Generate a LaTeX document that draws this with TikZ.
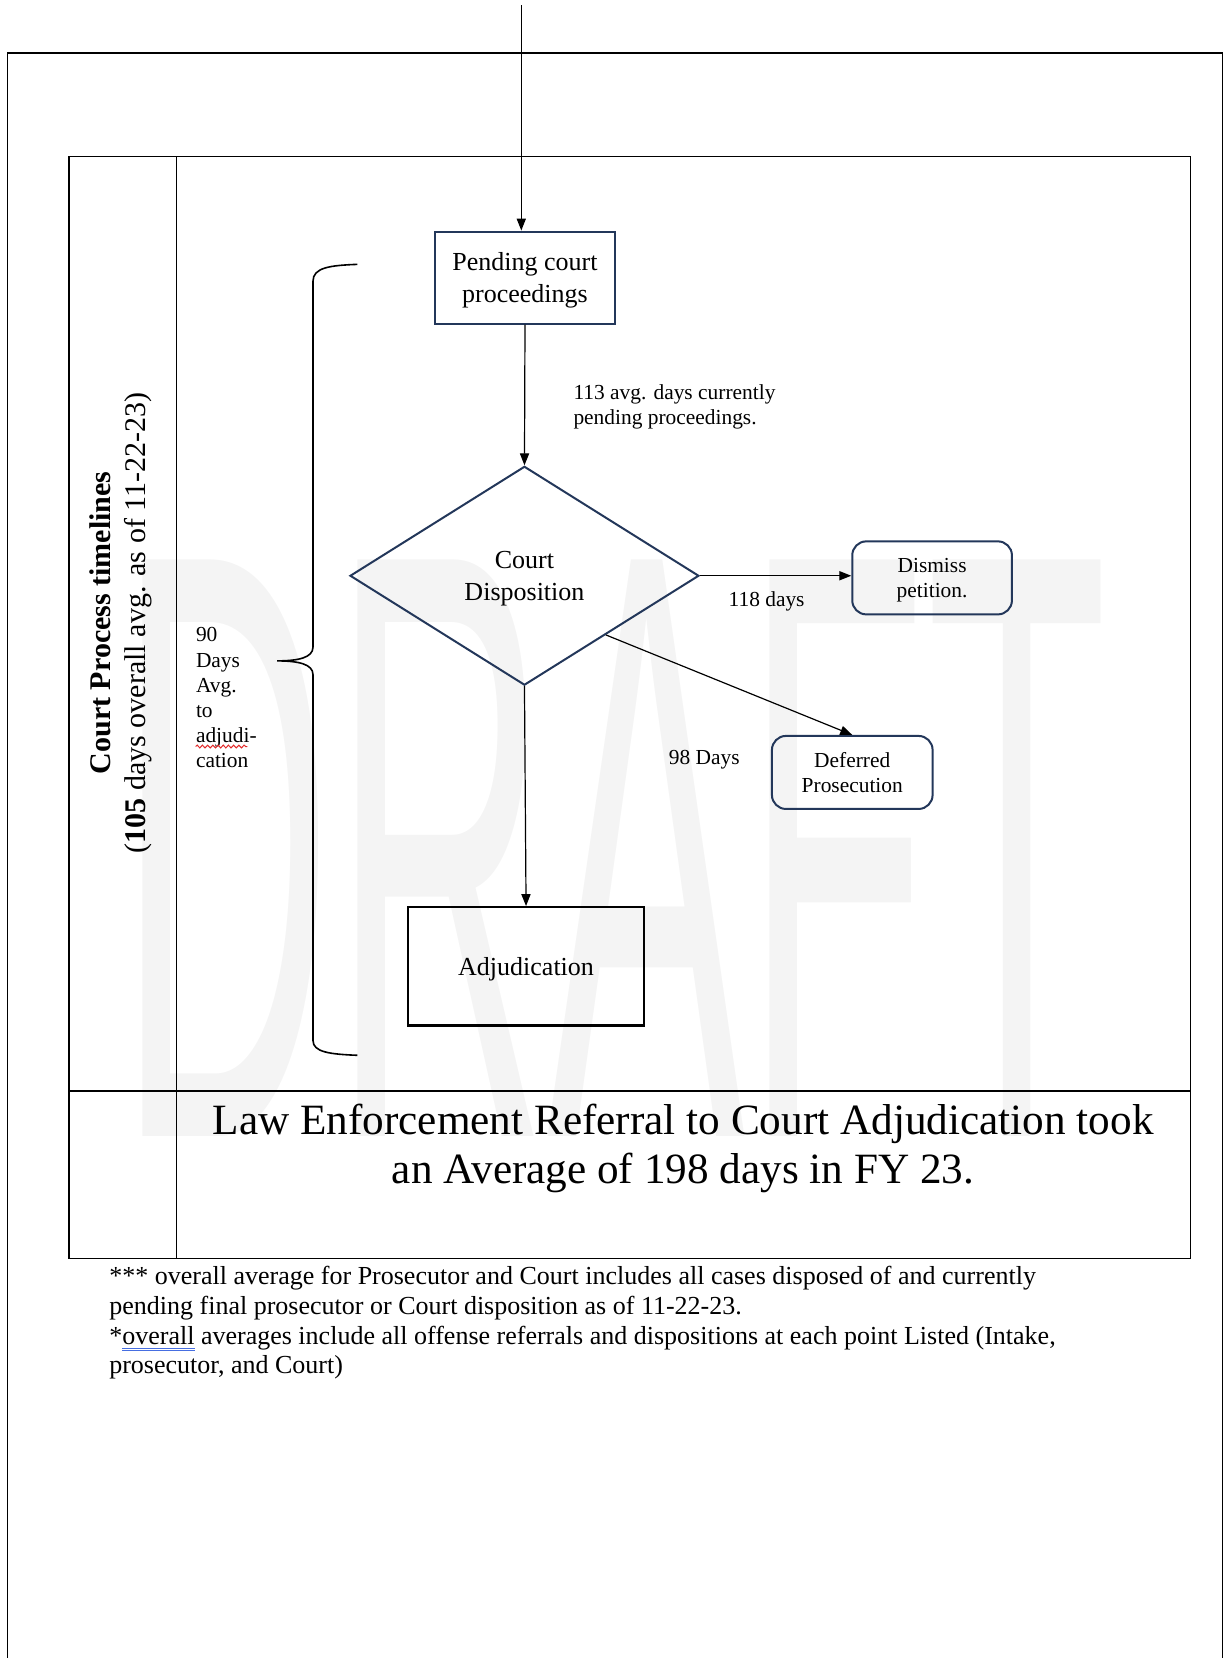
\documentclass[tikz,border=0pt]{standalone}
\usepackage{fontspec}
\setmainfont{Liberation Serif}
\setsansfont{Liberation Sans}
\usetikzlibrary{shapes.geometric,arrows.meta,decorations.pathmorphing}

\definecolor{boxnavy}{RGB}{35,55,90}
\definecolor{draftgray}{RGB}{244,244,244}
\definecolor{spellred}{RGB}{225,40,40}
\definecolor{gramblue}{RGB}{70,110,225}

\newsavebox{\ulbox}
\newcommand{\dblul}[1]{\sbox{\ulbox}{#1}%
  \rlap{\color{gramblue}\rule[-2.3pt]{\wd\ulbox}{0.45pt}}%
  \rlap{\color{gramblue}\rule[-3.5pt]{\wd\ulbox}{0.45pt}}\usebox{\ulbox}}

\tikzset{
  boxfont/.style={font=\fontsize{13}{15.9}\selectfont},
  smallfont/.style={font=\fontsize{10.7}{12.6}\selectfont},
  flowbox/.style={draw=boxnavy, line width=1pt, align=center, inner sep=2pt, text depth=0pt, boxfont},
  roundbox/.style={flowbox, rounded corners=7pt, smallfont},
  link/.style={line width=0.6pt, -{Triangle[length=6pt,width=4.6pt]}},
  frame/.style={line width=0.8pt},
  note/.style={inner sep=0pt, align=left, smallfont},
}

\begin{document}
\begin{tikzpicture}[x=0.5285pt, y=-0.5285pt]
    \useasboundingbox (0,0) rectangle (1158,1568);

    % watermark
    \node[anchor=south west, inner sep=0pt, text=draftgray] (draft) at (112,1075)
      {\resizebox{494pt}{288pt}{\sffamily DRAFT}};

    % page frame and table
    \draw[frame] (7,1568) -- (7,50) -- (1156,50) -- (1156,1568);
    \draw[frame] (65,148) rectangle (1126,1190);
    \draw[frame] (167,148) -- (167,1190);
    \draw[frame] (65,1032) -- (1126,1032);

    % flow
    \node[flowbox, minimum width=90.4pt, minimum height=46pt] (pending) at (496.5,262.5) {Pending court\\proceedings};
    \node[flowbox, diamond, inner sep=0pt, minimum width=174.4pt, minimum height=109.4pt] (disp) at (496,544.5) {Court\\Disposition};
    \node[roundbox, minimum width=79.8pt, minimum height=36.5pt] (dismiss) at (881.5,546.5) {Dismiss\\petition.};
    \node[roundbox, minimum width=80.3pt, minimum height=36.5pt] (defer) at (806,730.5) {Deferred\\Prosecution};
    \node[flowbox, draw=black, line width=1.2pt, minimum width=117.9pt, minimum height=59.2pt] (adj) at (497.5,914) {Adjudication};

    \coordinate (entry) at (493,5);
    \draw[link] (entry) -- (entry |- pending.north);
    \draw[link] (pending.south) -- (disp.north);
    \draw[link] (disp.east) -- (disp.east -| dismiss.west);
    \draw[link] (disp.-36.5) -- (defer.north);
    \draw[link] (disp.south) -- (adj.north);

    % labels
    \node[note, anchor=west] (pendlbl) at (542,385) {113 avg. days currently\\pending proceedings.};
    \node[note] (dismisslbl) at (725,569) {118 days};
    \node[note] (deferlbl) at (666,718.5) {98 Days};
    \node[note, anchor=west] (avglbl) at (185,660) {90\\Days\\Avg.\\to\\adjudi-\\cation};
    \draw[spellred, line width=0.5pt, decorate, decoration={snake, amplitude=0.7pt, segment length=2.6pt}] (185,706) -- (234,706);

    % brace
    \draw[line width=0.8pt] (338,250) .. controls (312,251) and (296,253) .. (296,266) -- (296,612)
      .. controls (296,622) and (282,625) .. (262,625) .. controls (282,625) and (296,628) .. (296,638)
      -- (296,984) .. controls (296,995) and (312,997) .. (338,998);

    \node[rotate=90, align=center, font=\fontsize{15}{17.4}\selectfont] (sidelbl) at (114,589)
      {\textbf{Court Process timelines}\\(\textbf{105} days overall avg. as of 11-22-23)};

    \node[align=center, font=\fontsize{21.6}{24.8}\selectfont] (summary) at (646,1086)
      {Law Enforcement Referral to Court Adjudication took\\an Average of 198 days in FY 23.};

    \node[note, anchor=west, font=\fontsize{13}{14.9}\selectfont] (foot) at (103,1251)
      {*** overall average for Prosecutor and Court includes all cases disposed of and currently\\
       pending final prosecutor or Court disposition as of 11-22-23.\\
       *\dblul{overall} averages include all offense referrals and dispositions at each point Listed (Intake,\\
       prosecutor, and Court)};
\end{tikzpicture}
\end{document}
